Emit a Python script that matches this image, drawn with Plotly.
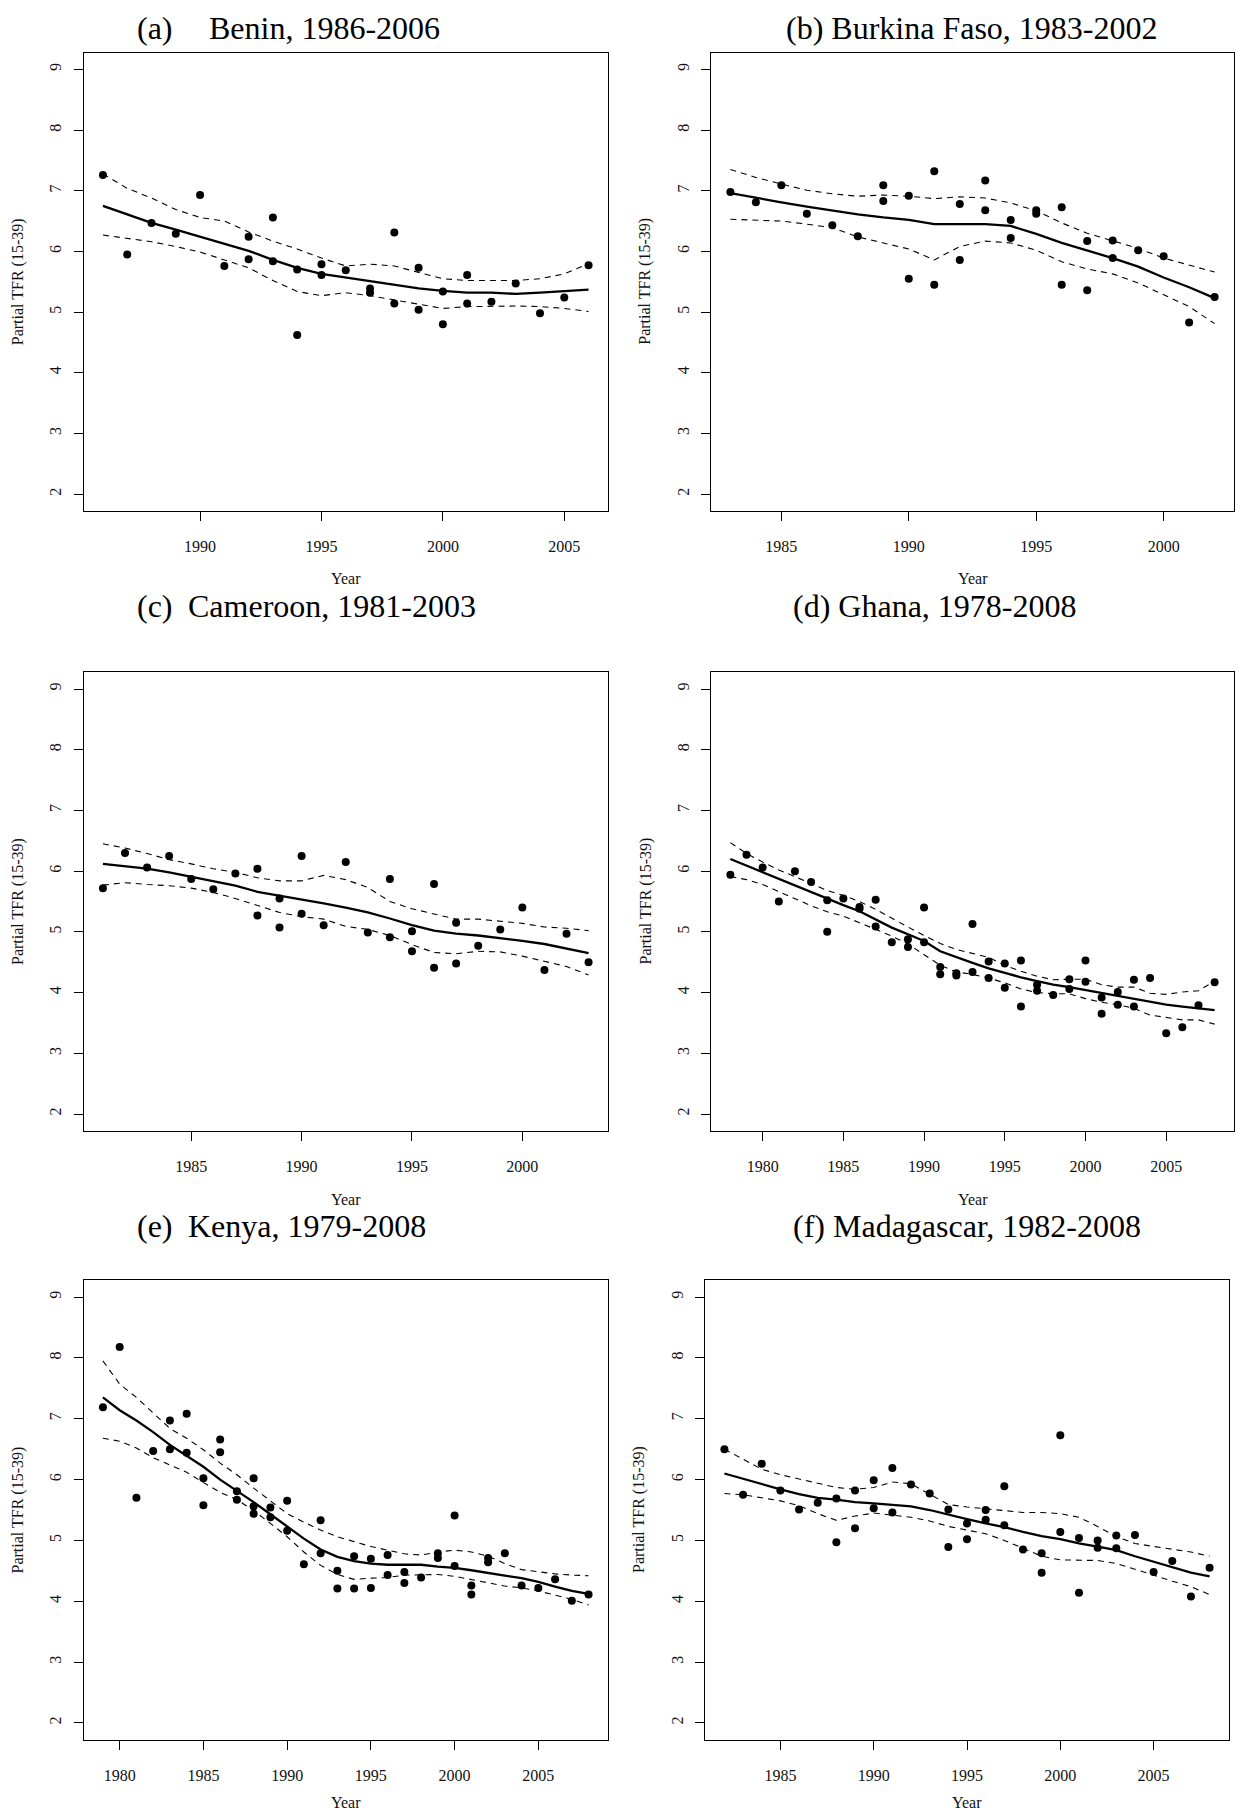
import plotly.graph_objects as go

# ---------------- data ----------------
# (a) Benin
benin_pt_year = [1986, 1987, 1988, 1989, 1990, 1991, 1992, 1992, 1993, 1993, 1994, 1994, 1995, 1995, 1996,
                 1997, 1997, 1998, 1998, 1999, 1999, 2000, 2000, 2001, 2001, 2002, 2003, 2004, 2005, 2006]
benin_pt_tfr = [7.26, 5.95, 6.47, 6.29, 6.93, 5.76, 6.24, 5.87, 6.56, 5.84, 5.70, 4.62, 5.79, 5.61, 5.69,
                5.39, 5.32, 6.31, 5.14, 5.73, 5.04, 5.34, 4.80, 5.61, 5.14, 5.17, 5.47, 4.98, 5.24, 5.77]
benin_year = [1986, 1987, 1988, 1989, 1990, 1991, 1992, 1993, 1994, 1995, 1996, 1997, 1998, 1999, 2000,
              2001, 2002, 2003, 2004, 2005, 2006]
benin_fit = [6.75, 6.61, 6.47, 6.36, 6.24, 6.12, 6.01, 5.86, 5.73, 5.63, 5.57, 5.51, 5.46, 5.39, 5.35,
             5.32, 5.32, 5.30, 5.32, 5.35, 5.37]
benin_upper = [7.28, 7.04, 6.88, 6.69, 6.56, 6.50, 6.32, 6.17, 6.04, 5.89, 5.76, 5.79, 5.76, 5.66, 5.55,
               5.52, 5.52, 5.52, 5.55, 5.63, 5.80]
benin_lower = [6.27, 6.22, 6.16, 6.08, 5.99, 5.86, 5.73, 5.52, 5.34, 5.27, 5.32, 5.27, 5.20, 5.12, 5.06,
               5.09, 5.10, 5.10, 5.09, 5.06, 5.01]

# (b) Burkina Faso
burkina_pt_year = [1983, 1984, 1985, 1986, 1987, 1988, 1989, 1989, 1990, 1990, 1991, 1991, 1992, 1992, 1993,
                   1993, 1994, 1994, 1995, 1995, 1996, 1996, 1997, 1997, 1998, 1998, 1999, 2000, 2001, 2002]
burkina_pt_tfr = [6.98, 6.81, 7.09, 6.62, 6.43, 6.25, 7.09, 6.83, 6.92, 5.55, 7.32, 5.45, 6.78, 5.86, 7.17,
                  6.68, 6.52, 6.22, 6.68, 6.62, 6.73, 5.45, 6.17, 5.36, 6.18, 5.89, 6.02, 5.92, 4.83, 5.25]
burkina_year = [1983, 1984, 1985, 1986, 1987, 1988, 1989, 1990, 1991, 1992, 1993, 1994, 1995, 1996, 1997,
                1998, 1999, 2000, 2001, 2002]
burkina_fit = [6.96, 6.88, 6.81, 6.74, 6.67, 6.61, 6.56, 6.52, 6.45, 6.45, 6.45, 6.42, 6.29, 6.14, 6.02,
               5.89, 5.75, 5.57, 5.41, 5.23]
burkina_upper = [7.35, 7.22, 7.11, 7.01, 6.95, 6.91, 6.93, 6.91, 6.87, 6.90, 6.88, 6.80, 6.67, 6.47, 6.30,
                 6.17, 6.05, 5.89, 5.77, 5.66]
burkina_lower = [6.53, 6.52, 6.50, 6.45, 6.39, 6.24, 6.14, 6.04, 5.86, 6.08, 6.17, 6.14, 6.02, 5.83, 5.71,
                 5.63, 5.48, 5.29, 5.09, 4.81]

# (c) Cameroon
cameroon_pt_year = [1981, 1982, 1983, 1984, 1985, 1986, 1987, 1988, 1988, 1989, 1989, 1990, 1990, 1991, 1992,
                    1993, 1994, 1994, 1995, 1995, 1996, 1996, 1997, 1997, 1998, 1999, 2000, 2001, 2002, 2003]
cameroon_pt_tfr = [5.72, 6.30, 6.06, 6.25, 5.87, 5.70, 5.96, 6.04, 5.27, 5.55, 5.07, 6.25, 5.30, 5.11, 6.15,
                   4.99, 5.87, 4.91, 5.01, 4.68, 5.79, 4.41, 5.15, 4.48, 4.77, 5.04, 5.40, 4.37, 4.97, 4.50]
cameroon_year = [1981, 1982, 1983, 1984, 1985, 1986, 1987, 1988, 1989, 1990, 1991, 1992, 1993, 1994, 1995,
                 1996, 1997, 1998, 1999, 2000, 2001, 2002, 2003]
cameroon_fit = [6.12, 6.08, 6.04, 5.98, 5.91, 5.84, 5.76, 5.66, 5.60, 5.53, 5.47, 5.40, 5.32, 5.22, 5.11,
                5.02, 4.97, 4.94, 4.90, 4.85, 4.80, 4.73, 4.65]
cameroon_upper = [6.45, 6.38, 6.29, 6.19, 6.12, 6.04, 5.98, 5.89, 5.84, 5.84, 5.93, 5.86, 5.73, 5.50, 5.38,
                  5.30, 5.21, 5.21, 5.17, 5.14, 5.08, 5.06, 5.02]
cameroon_lower = [5.77, 5.81, 5.78, 5.76, 5.72, 5.65, 5.55, 5.43, 5.32, 5.25, 5.21, 5.09, 5.04, 4.94, 4.79,
                  4.66, 4.64, 4.68, 4.67, 4.60, 4.52, 4.43, 4.29]

# (d) Ghana
ghana_pt_year = [1978, 1979, 1980, 1981, 1982, 1983, 1984, 1984, 1985, 1986, 1986, 1987, 1987, 1988, 1989,
                 1989, 1990, 1990, 1991, 1991, 1992, 1992, 1993, 1993, 1994, 1994, 1995, 1995, 1996, 1996,
                 1997, 1997, 1998, 1999, 1999, 2000, 2000, 2001, 2001, 2002, 2002, 2003, 2003, 2004, 2005,
                 2006, 2007, 2008]
ghana_pt_tfr = [5.94, 6.27, 6.06, 5.50, 6.00, 5.82, 5.52, 5.00, 5.55, 5.41, 5.38, 5.53, 5.09, 4.83, 4.88,
                4.75, 5.40, 4.83, 4.42, 4.30, 4.32, 4.28, 5.13, 4.34, 4.51, 4.24, 4.48, 4.08, 4.53, 3.77,
                4.13, 4.03, 3.96, 4.22, 4.06, 4.53, 4.18, 3.92, 3.65, 4.01, 3.80, 4.21, 3.77, 4.24, 3.33,
                3.43, 3.79, 4.17]
ghana_year = [1978, 1979, 1980, 1981, 1982, 1983, 1984, 1985, 1986, 1987, 1988, 1989, 1990, 1991, 1992,
              1993, 1994, 1995, 1996, 1997, 1998, 1999, 2000, 2001, 2002, 2003, 2004, 2005, 2006, 2007, 2008]
ghana_fit = [6.20, 6.09, 5.98, 5.87, 5.76, 5.65, 5.54, 5.44, 5.34, 5.21, 5.07, 4.96, 4.85, 4.68, 4.58,
             4.49, 4.40, 4.32, 4.25, 4.19, 4.13, 4.09, 4.04, 3.99, 3.94, 3.89, 3.84, 3.80, 3.77, 3.74, 3.71]
ghana_upper = [6.47, 6.29, 6.15, 6.02, 5.91, 5.80, 5.68, 5.60, 5.50, 5.37, 5.22, 5.08, 4.94, 4.81, 4.71,
               4.65, 4.58, 4.45, 4.35, 4.27, 4.21, 4.22, 4.22, 4.13, 4.09, 4.09, 3.99, 3.97, 4.01, 4.03, 4.19]
ghana_lower = [5.91, 5.86, 5.78, 5.66, 5.54, 5.43, 5.33, 5.26, 5.15, 5.04, 4.93, 4.80, 4.62, 4.45, 4.34,
               4.30, 4.24, 4.16, 4.06, 4.00, 3.98, 3.98, 3.90, 3.84, 3.80, 3.74, 3.63, 3.59, 3.55, 3.55, 3.48]

# (e) Kenya
kenya_pt_year = [1979, 1980, 1981, 1982, 1983, 1983, 1984, 1984, 1985, 1985, 1986, 1986, 1987, 1987, 1988,
                 1988, 1988, 1989, 1989, 1990, 1990, 1991, 1992, 1992, 1993, 1993, 1994, 1994, 1995, 1995,
                 1996, 1996, 1997, 1997, 1998, 1999, 1999, 2000, 2000, 2001, 2001, 2002, 2002, 2003, 2004,
                 2005, 2006, 2007, 2008]
kenya_pt_tfr = [7.19, 8.18, 5.70, 6.47, 6.97, 6.50, 7.08, 6.44, 6.02, 5.58, 6.66, 6.45, 5.81, 5.67, 6.02,
                5.56, 5.44, 5.54, 5.38, 5.65, 5.16, 4.61, 5.33, 4.79, 4.50, 4.21, 4.74, 4.21, 4.70, 4.22,
                4.76, 4.43, 4.48, 4.30, 4.39, 4.79, 4.71, 5.41, 4.58, 4.26, 4.11, 4.71, 4.64, 4.79, 4.26,
                4.22, 4.36, 4.01, 4.11]
kenya_year = [1979, 1980, 1981, 1982, 1983, 1984, 1985, 1986, 1987, 1988, 1989, 1990, 1991, 1992, 1993,
              1994, 1995, 1996, 1997, 1998, 1999, 2000, 2001, 2002, 2003, 2004, 2005, 2006, 2007, 2008]
kenya_fit = [7.35, 7.14, 6.97, 6.78, 6.57, 6.39, 6.21, 6.00, 5.82, 5.63, 5.43, 5.23, 5.03, 4.85, 4.73,
             4.66, 4.62, 4.60, 4.60, 4.60, 4.57, 4.55, 4.51, 4.46, 4.42, 4.38, 4.32, 4.24, 4.17, 4.12]
kenya_upper = [7.95, 7.57, 7.35, 7.09, 6.84, 6.68, 6.49, 6.27, 6.08, 5.86, 5.65, 5.44, 5.30, 5.17, 5.06,
               4.98, 4.90, 4.84, 4.78, 4.76, 4.81, 4.84, 4.81, 4.74, 4.62, 4.52, 4.48, 4.45, 4.43, 4.42]
kenya_lower = [6.68, 6.63, 6.52, 6.36, 6.24, 6.12, 5.95, 5.79, 5.67, 5.49, 5.28, 5.06, 4.81, 4.59, 4.44,
               4.36, 4.38, 4.39, 4.43, 4.44, 4.44, 4.41, 4.36, 4.30, 4.25, 4.22, 4.17, 4.10, 4.03, 3.94]

# (f) Madagascar
madag_pt_year = [1982, 1983, 1984, 1985, 1986, 1987, 1988, 1988, 1989, 1989, 1990, 1990, 1991, 1991, 1992,
                 1993, 1994, 1994, 1995, 1995, 1996, 1996, 1997, 1997, 1998, 1999, 1999, 2000, 2000, 2001,
                 2001, 2002, 2002, 2003, 2003, 2004, 2005, 2006, 2007, 2008]
madag_pt_tfr = [6.50, 5.75, 6.26, 5.82, 5.51, 5.62, 5.69, 4.97, 5.82, 5.20, 5.99, 5.53, 6.19, 5.46, 5.92,
                5.77, 5.51, 4.89, 5.28, 5.02, 5.50, 5.34, 5.89, 5.25, 4.85, 4.79, 4.47, 6.73, 5.14, 5.04,
                4.14, 5.00, 4.88, 5.08, 4.87, 5.09, 4.48, 4.66, 4.08, 4.55]
madag_year = [1982, 1983, 1984, 1985, 1986, 1987, 1988, 1989, 1990, 1991, 1992, 1993, 1994, 1995, 1996,
              1997, 1998, 1999, 2000, 2001, 2002, 2003, 2004, 2005, 2006, 2007, 2008]
madag_fit = [6.10, 6.01, 5.93, 5.84, 5.76, 5.70, 5.67, 5.63, 5.61, 5.59, 5.56, 5.50, 5.42, 5.35, 5.28,
             5.22, 5.14, 5.07, 5.02, 4.95, 4.90, 4.84, 4.74, 4.65, 4.55, 4.47, 4.41]
madag_upper = [6.50, 6.33, 6.17, 6.08, 6.01, 5.93, 5.87, 5.84, 5.87, 5.96, 5.93, 5.76, 5.59, 5.55, 5.52,
               5.49, 5.46, 5.46, 5.44, 5.38, 5.23, 5.06, 4.95, 4.90, 4.85, 4.81, 4.74]
madag_lower = [5.77, 5.75, 5.70, 5.65, 5.57, 5.44, 5.33, 5.40, 5.45, 5.41, 5.38, 5.32, 5.23, 5.17, 5.11,
               5.00, 4.87, 4.74, 4.68, 4.68, 4.67, 4.62, 4.53, 4.43, 4.33, 4.24, 4.11]

panel_tags = ["(a)", "(b)", "(c)", "(d)", "(e)", "(f)"]
panel_names = ["Benin, 1986-2006", "Burkina Faso, 1983-2002", "Cameroon, 1981-2003",
               "Ghana, 1978-2008", "Kenya, 1979-2008", "Madagascar, 1982-2008"]
y_ticks = [2, 3, 4, 5, 6, 7, 8, 9]
y_title = "Partial TFR (15-39)"
x_title = "Year"

# ---------------- page geometry (pixels) ----------------
W, H = 1245, 1814
# plot frame of each panel: left, right, top, bottom
frames = [
    (83.5, 608, 52.5, 511),
    (711, 1234, 52.5, 511),
    (83.5, 608, 672, 1131),
    (711, 1234, 672, 1131),
    (83.5, 608, 1280, 1740),
    (705, 1229, 1280, 1740),
]
# distance from frame bottom to the "Year" caption
year_offsets = [68, 68, 68, 68, 62, 62]
# heading placement: tag x, name x (None = same string), centre y
headings = [
    (135, 206.5, 28),
    (783.5, None, 28),
    (135, 186, 606),
    (791, None, 606),
    (135, 186, 1226),
    (791, None, 1226),
]

series = [
    (benin_pt_year, benin_pt_tfr, benin_year, benin_fit, benin_upper, benin_lower),
    (burkina_pt_year, burkina_pt_tfr, burkina_year, burkina_fit, burkina_upper, burkina_lower),
    (cameroon_pt_year, cameroon_pt_tfr, cameroon_year, cameroon_fit, cameroon_upper, cameroon_lower),
    (ghana_pt_year, ghana_pt_tfr, ghana_year, ghana_fit, ghana_upper, ghana_lower),
    (kenya_pt_year, kenya_pt_tfr, kenya_year, kenya_fit, kenya_upper, kenya_lower),
    (madag_pt_year, madag_pt_tfr, madag_year, madag_fit, madag_upper, madag_lower),
]

SERIF = "Liberation Serif, Times New Roman, serif"
INK = "#000000"

fig = go.Figure()
layout = dict(
    width=W, height=H,
    margin=dict(l=0, r=0, t=0, b=0),
    paper_bgcolor="white", plot_bgcolor="white",
    showlegend=False,
    annotations=[],
)

for i, (pts_x, pts_y, yrs, fit, up, lo) in enumerate(series):
    n = i + 1
    xa = "x" if n == 1 else f"x{n}"
    ya = "y" if n == 1 else f"y{n}"
    left, right, top, bottom = frames[i]

    # confidence band (dashed), smooth fit (solid), observations (dots)
    for band in (up, lo):
        fig.add_trace(go.Scatter(x=yrs, y=band, mode="lines", xaxis=xa, yaxis=ya,
                                 line=dict(color=INK, width=1.1, dash="6px,5px"),
                                 hoverinfo="skip"))
    fig.add_trace(go.Scatter(x=yrs, y=fit, mode="lines", xaxis=xa, yaxis=ya,
                             line=dict(color=INK, width=2.3)))
    fig.add_trace(go.Scatter(x=pts_x, y=pts_y, mode="markers", xaxis=xa, yaxis=ya,
                             marker=dict(color=INK, size=8, line=dict(width=0))))

    span = max(yrs) - min(yrs)
    xr = [min(yrs) - 0.04 * span, max(yrs) + 0.04 * span]
    yspan = max(y_ticks) - min(y_ticks)
    yr = [min(y_ticks) - 0.04 * yspan, max(y_ticks) + 0.04 * yspan]

    common = dict(showline=True, mirror=True, linecolor=INK, linewidth=1,
                  ticks="outside", ticklen=9, tickwidth=1, tickcolor=INK,
                  showgrid=False, zeroline=False, fixedrange=True,
                  tickfont=dict(family=SERIF, size=16, color="#111111"))
    layout["xaxis" if n == 1 else f"xaxis{n}"] = dict(
        common, domain=[left / W, right / W], range=xr, anchor=ya,
        tickmode="linear", tick0=1980, dtick=5, ticklabelstandoff=12)
    layout["yaxis" if n == 1 else f"yaxis{n}"] = dict(
        common, domain=[1 - bottom / H, 1 - top / H], range=yr, anchor=xa,
        tickmode="array", tickvals=y_ticks, ticktext=[str(v) for v in y_ticks],
        tickangle=-90, ticklabelstandoff=6)

    # axis titles
    layout["annotations"].append(dict(
        text=x_title, x=(left + right) / 2 / W, y=1 - (bottom + year_offsets[i]) / H,
        xref="paper", yref="paper", showarrow=False, xanchor="center", yanchor="middle",
        font=dict(family=SERIF, size=16, color="#111111")))
    layout["annotations"].append(dict(
        text=y_title, x=(left - 66) / W, y=1 - (top + bottom) / 2 / H, textangle=-90,
        xref="paper", yref="paper", showarrow=False, xanchor="center", yanchor="middle",
        font=dict(family=SERIF, size=16, color="#111111")))

    # panel heading
    tag_x, name_x, hy = headings[i]
    if name_x is None:
        parts = [(tag_x, panel_tags[i] + " " + panel_names[i])]
    else:
        parts = [(tag_x, panel_tags[i]), (name_x, panel_names[i])]
    for px, txt in parts:
        layout["annotations"].append(dict(
            text=txt, x=px / W, y=1 - hy / H, xref="paper", yref="paper",
            showarrow=False, xanchor="left", yanchor="middle",
            font=dict(family=SERIF, size=32, color=INK)))

fig.update_layout(**layout)
fig.write_html("out.html")
